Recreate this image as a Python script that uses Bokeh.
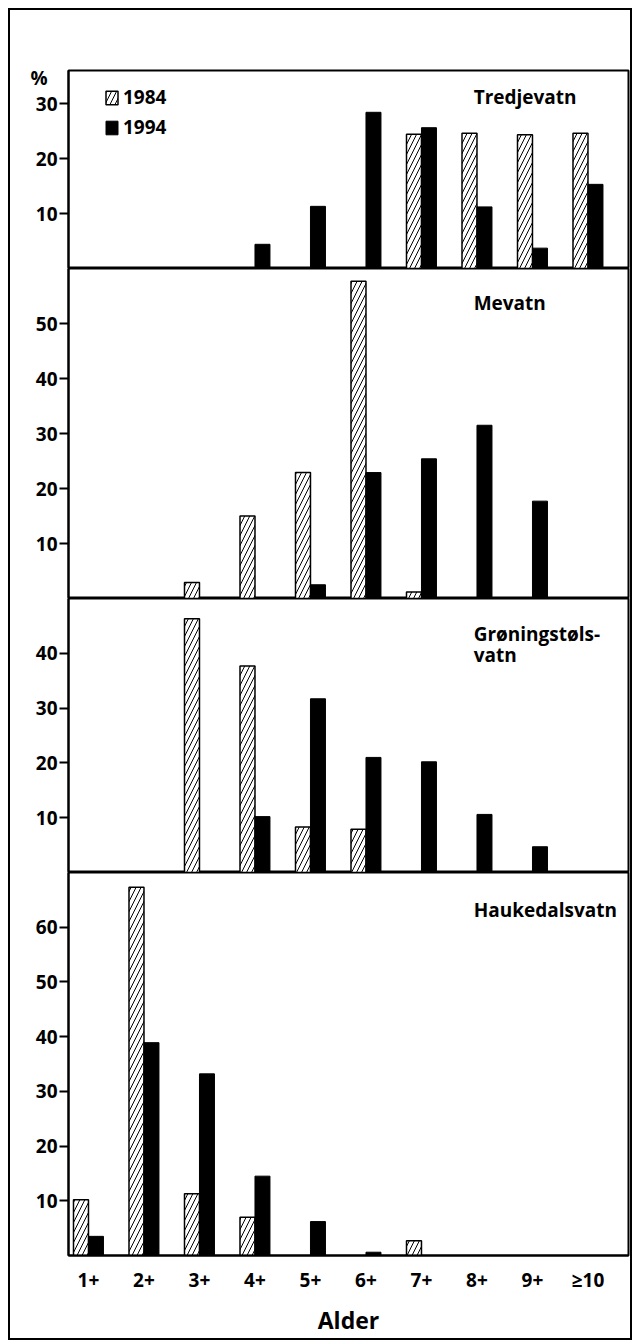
from bokeh.plotting import figure
from bokeh.models import (ColumnDataSource, Range1d, FixedTicker, Label, Legend, LegendItem,
                          LinearAxis)
from bokeh.transform import dodge
from bokeh.layouts import column
from bokeh.embed import file_html
from bokeh.resources import INLINE

ages = ["1+", "2+", "3+", "4+", "5+", "6+", "7+", "8+", "9+", "≥10"]
age_pos = list(range(1, 11))

tredjevatn_1984 = [0, 0, 0, 0, 0, 0, 24.4, 24.6, 24.3, 24.6]
tredjevatn_1994 = [0, 0, 0, 4.4, 11.3, 28.4, 25.6, 11.2, 3.7, 15.3]
mevatn_1984 = [0, 0, 2.9, 15.0, 22.9, 57.7, 1.2, 0, 0, 0]
mevatn_1994 = [0, 0, 0, 0, 2.5, 22.9, 25.4, 31.5, 17.7, 0]
groning_1984 = [0, 0, 46.3, 37.7, 8.3, 7.9, 0, 0, 0, 0]
groning_1994 = [0, 0, 0, 10.2, 31.7, 21.0, 20.2, 10.6, 4.7, 0]
hauke_1984 = [10.2, 67.3, 11.3, 7.0, 0, 0, 2.7, 0, 0, 0]
hauke_1994 = [3.5, 38.9, 33.2, 14.5, 6.2, 0.6, 0, 0, 0, 0]

panel_names = ["Tredjevatn", "Mevatn", "Grøningstøls-\nvatn", "Haukedalsvatn"]
panel_ymax = [36, 60, 50, 70]
panel_ticks = [[10, 20, 30], [10, 20, 30, 40, 50], [10, 20, 30, 40], [10, 20, 30, 40, 50, 60]]
series_1984 = [tredjevatn_1984, mevatn_1984, groning_1984, hauke_1984]
series_1994 = [tredjevatn_1994, mevatn_1994, groning_1994, hauke_1994]
unit_label = "%"
unit_pos = 34.7

FONT = "Open Sans"
frame_h = [198, 330, 274, 390]
top_b = [60, 0, 0, 0]
bot_b = [0, 0, 0, 76]
title_y = [31.1, 53.8, 43.6, 63.2]

figs = []
for k in range(4):
    p = figure(width=620, height=frame_h[k] + top_b[k] + bot_b[k],
               x_range=Range1d(0.64, 10.73), y_range=Range1d(0, panel_ymax[k]),
               output_backend="svg", toolbar_location=None,
               min_border_left=58, min_border_right=2,
               min_border_top=top_b[k], min_border_bottom=bot_b[k],
               x_axis_location=("below" if k == 3 else None))
    p.background_fill_color = "white"
    p.border_fill_color = "white"
    p.outline_line_color = "black"
    p.outline_line_width = 2
    p.xgrid.visible = False
    p.ygrid.visible = False

    s84 = ColumnDataSource(dict(x=[a for a, v in zip(age_pos, series_1984[k]) if v > 0],
                                top=[v for v in series_1984[k] if v > 0]))
    s94 = ColumnDataSource(dict(x=[a for a, v in zip(age_pos, series_1994[k]) if v > 0],
                                top=[v for v in series_1994[k] if v > 0]))
    r84 = p.vbar(x=dodge("x", -0.135, range=p.x_range), top="top", bottom=0, width=0.27,
                 source=s84, fill_color="white", line_color="black", line_width=1.5,
                 hatch_pattern="/", hatch_color="black", hatch_weight=1, hatch_scale=10)
    r94 = p.vbar(x=dodge("x", 0.135, range=p.x_range), top="top", bottom=0, width=0.27,
                 source=s94, fill_color="black", line_color="black", line_width=1)

    # inner axis: tick marks only
    yax = p.yaxis[0]
    yax.ticker = FixedTicker(ticks=panel_ticks[k])
    yax.major_label_overrides = {t: "" for t in panel_ticks[k]}
    yax.minor_tick_line_color = None
    yax.major_tick_in = 0
    yax.major_tick_out = 9
    yax.major_tick_line_width = 2
    yax.axis_line_width = 2
    yax.major_label_standoff = 0

    # outer axis: labels only
    lab_ticks = panel_ticks[k] + ([unit_pos] if k == 0 else [])
    lax = LinearAxis(ticker=FixedTicker(ticks=lab_ticks))
    if k == 0:
        lax.major_label_overrides = {unit_pos: unit_label + "  "}
    lax.axis_line_color = None
    lax.major_tick_line_color = None
    lax.minor_tick_line_color = None
    lax.major_tick_in = 0
    lax.major_tick_out = 0
    lax.major_label_standoff = 2
    lax.major_label_text_font = FONT
    lax.major_label_text_font_style = "bold"
    lax.major_label_text_font_size = "19px"
    lax.major_label_text_color = "black"
    p.add_layout(lax, "left")

    if k == 3:
        xax = p.xaxis[0]
        xax.ticker = FixedTicker(ticks=age_pos)
        xax.major_label_overrides = {a: lab for a, lab in zip(age_pos, ages)}
        xax.major_tick_line_color = None
        xax.minor_tick_line_color = None
        xax.major_tick_out = 0
        xax.major_tick_in = 0
        xax.axis_line_width = 2
        xax.major_label_standoff = 11
        xax.major_label_text_font = FONT
        xax.major_label_text_font_style = "bold"
        xax.major_label_text_font_size = "19px"
        xax.major_label_text_color = "black"
        xax.axis_label = "Alder"
        xax.axis_label_standoff = 8
        xax.axis_label_text_font = FONT
        xax.axis_label_text_font_style = "bold"
        xax.axis_label_text_font_size = "23px"
        xax.axis_label_text_color = "black"

    if k == 2:
        lines = panel_names[k].split("\n")
        p.add_layout(Label(x=7.94, y=title_y[k], text=lines[0], text_font=FONT,
                           text_font_style="bold", text_font_size="19px",
                           text_baseline="middle", text_color="black"))
        p.add_layout(Label(x=7.94, y=title_y[k] - 4.0, text=lines[1], text_font=FONT,
                           text_font_style="bold", text_font_size="19px",
                           text_baseline="middle", text_color="black"))
    else:
        p.add_layout(Label(x=7.94, y=title_y[k], text=panel_names[k], text_font=FONT,
                           text_font_style="bold", text_font_size="19px",
                           text_baseline="middle", text_color="black"))

    if k == 0:
        leg = Legend(items=[LegendItem(label="1984", renderers=[r84]),
                            LegendItem(label="1994", renderers=[r94])],
                     location=(36, 128), orientation="vertical",
                     glyph_width=15, glyph_height=17, spacing=4, padding=0, margin=0,
                     label_standoff=4, label_height=17,
                     label_text_font=FONT, label_text_font_style="bold",
                     label_text_font_size="19px", label_text_color="black",
                     border_line_color=None, background_fill_alpha=0)
        p.add_layout(leg)
    figs.append(p)

layout = column(*figs, spacing=0,
                styles={"border": "2px solid black", "margin-left": "8px", "margin-top": "8px"})

open("out.html", "w").write(file_html(layout, INLINE))
